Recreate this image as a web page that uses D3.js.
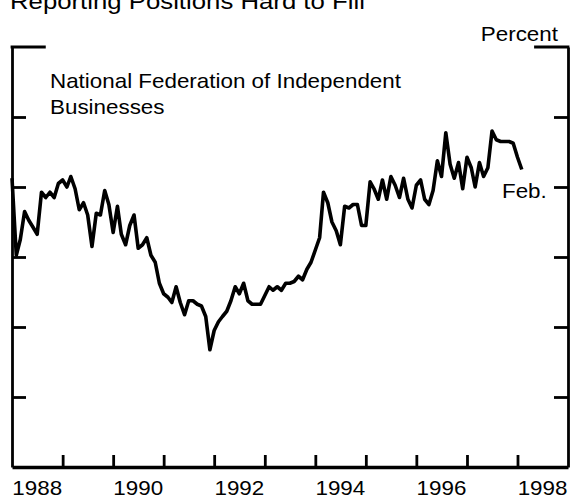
<!DOCTYPE html>
<html>
<head>
<meta charset="utf-8">
<script src="https://cdn.jsdelivr.net/npm/d3@7"></script>
<style>
  body { margin: 0; background: #fff; }
  svg { display: block; }
  text { font-family: "Liberation Sans", Arial, sans-serif; fill: #000; }
</style>
</head>
<body>
<svg id="chart" width="574" height="500"></svg>
<script>
// monthly values, Jan 1988 - Feb 1998 (percent)
var v1988 = [20.5, 16.1, 17.0, 18.6, 18.1, 17.7, 17.3, 19.7, 19.4, 19.7, 19.4, 20.2];
var v1989 = [20.4, 20.0, 20.6, 19.9, 18.7, 19.1, 18.4, 16.6, 18.5, 18.4, 19.8, 19.0];
var v1990 = [17.4, 18.9, 17.3, 16.7, 17.8, 18.4, 16.5, 16.7, 17.1, 16.1, 15.7, 14.5];
var v1991 = [13.9, 13.7, 13.4, 14.3, 13.4, 12.7, 13.5, 13.5, 13.3, 13.2, 12.6, 10.7];
var v1992 = [11.8, 12.3, 12.6, 12.9, 13.5, 14.3, 13.9, 14.5, 13.5, 13.3, 13.3, 13.3];
var v1993 = [13.8, 14.3, 14.1, 14.3, 14.1, 14.5, 14.5, 14.6, 14.9, 14.7, 15.3, 15.7];
var v1994 = [16.4, 17.1, 19.7, 19.1, 18.0, 17.5, 16.7, 18.9, 18.8, 19.0, 19.0, 17.8];
var v1995 = [17.8, 20.3, 19.9, 19.3, 20.4, 19.3, 20.6, 20.1, 19.4, 20.5, 19.3, 18.8];
var v1996 = [20.1, 20.4, 19.3, 19.0, 19.8, 21.5, 20.6, 23.1, 21.3, 20.5, 21.4, 19.9];
var v1997 = [21.7, 21.1, 20.0, 21.4, 20.6, 21.1, 23.2, 22.7, 22.6, 22.6, 22.6, 22.5];
var v1998 = [21.7, 21.0];

var yearLabels = [1988, 1990, 1992, 1994, 1996, 1998];
var yearTicks = [1989, 1990, 1991, 1992, 1993, 1994, 1995, 1996, 1997, 1998];
var yTicks = [8, 12, 16, 20, 24];

var values = [].concat(v1988, v1989, v1990, v1991, v1992, v1993, v1994, v1995, v1996, v1997, v1998);
var data = values.map(function(v, i) {
    return {x: new Date(1988, i, 1), y: v};
});

var svg = d3.select("#chart");
var stretch = "scale(1.12,1)";

var x = d3.scaleTime()
    .domain([new Date(1988, 0, 1), new Date(1999, 0, 1)])
    .range([12, 568]);

var y = d3.scaleLinear()
    .domain([4, 28])
    .range([467, 47]);

// heading, cut off at the top of the picture as in the original
svg.append("text")
    .attr("transform", "translate(10,9) " + stretch)
    .style("font-size", "23px")
    .text("Reporting Positions Hard to Fill");

svg.append("text")
    .attr("transform", "translate(558,41) " + stretch)
    .attr("text-anchor", "end")
    .style("font-size", "20px")
    .text("Percent");

// axes
var bottom = svg.append("g")
    .attr("transform", "translate(0," + y(4) + ")")
    .call(d3.axisBottom(x)
        .tickValues(yearTicks.map(function(d) { return new Date(d, 0, 1); }))
        .tickSizeInner(-12)
        .tickSizeOuter(0)
        .tickFormat(""));
bottom.select(".domain").attr("stroke-width", 3.4);
bottom.selectAll(".tick line").attr("stroke-width", 2.8);

svg.append("g")
    .attr("transform", "translate(" + x(new Date(1988, 0, 1)) + ",0)")
    .call(d3.axisLeft(y).tickValues(yTicks).tickSizeInner(-14).tickSizeOuter(0).tickFormat(""))
    .call(function(g) {
        g.select(".domain").attr("stroke-width", 2.8);
        g.selectAll(".tick line").attr("stroke-width", 2.8);
    });

svg.append("g")
    .attr("transform", "translate(" + x(new Date(1999, 0, 1)) + ",0)")
    .call(d3.axisRight(y).tickValues(yTicks).tickSizeInner(-14).tickSizeOuter(0).tickFormat(""))
    .call(function(g) {
        g.select(".domain").attr("stroke-width", 2.8);
        g.selectAll(".tick line").attr("stroke-width", 2.8);
    });

// top corners of the frame
svg.append("line")
    .attr("x1", x(new Date(1988, 0, 1)) - 1.4).attr("x2", x(new Date(1988, 8, 1)))
    .attr("y1", y(28)).attr("y2", y(28))
    .attr("stroke", "#000").attr("stroke-width", 2.8);
svg.append("line")
    .attr("x1", x(new Date(1998, 4, 1))).attr("x2", x(new Date(1999, 0, 1)) + 1.4)
    .attr("y1", y(28)).attr("y2", y(28))
    .attr("stroke", "#000").attr("stroke-width", 2.8);

// year labels centred in each year
svg.selectAll(".yr")
    .data(yearLabels)
    .enter().append("text")
    .attr("class", "yr")
    .attr("transform", function(d) {
        return "translate(" + x(new Date(d, 6, 1)) + ",495) " + stretch;
    })
    .attr("text-anchor", "middle")
    .style("font-size", "20px")
    .text(function(d) { return d; });

// series
var line = d3.line()
    .x(function(d) { return x(d.x); })
    .y(function(d) { return y(d.y); });

svg.append("path")
    .datum(data)
    .attr("fill", "none")
    .attr("stroke", "#000")
    .attr("stroke-width", 3.6)
    .attr("stroke-linejoin", "round")
    .attr("d", line);

// notes
svg.append("text")
    .attr("transform", "translate(50,88) " + stretch)
    .style("font-size", "20px")
    .text("National Federation of Independent");
svg.append("text")
    .attr("transform", "translate(50,114) " + stretch)
    .style("font-size", "20px")
    .text("Businesses");

svg.append("text")
    .attr("transform", "translate(502,198) " + stretch)
    .style("font-size", "20px")
    .text("Feb.");
</script>
</body>
</html>
